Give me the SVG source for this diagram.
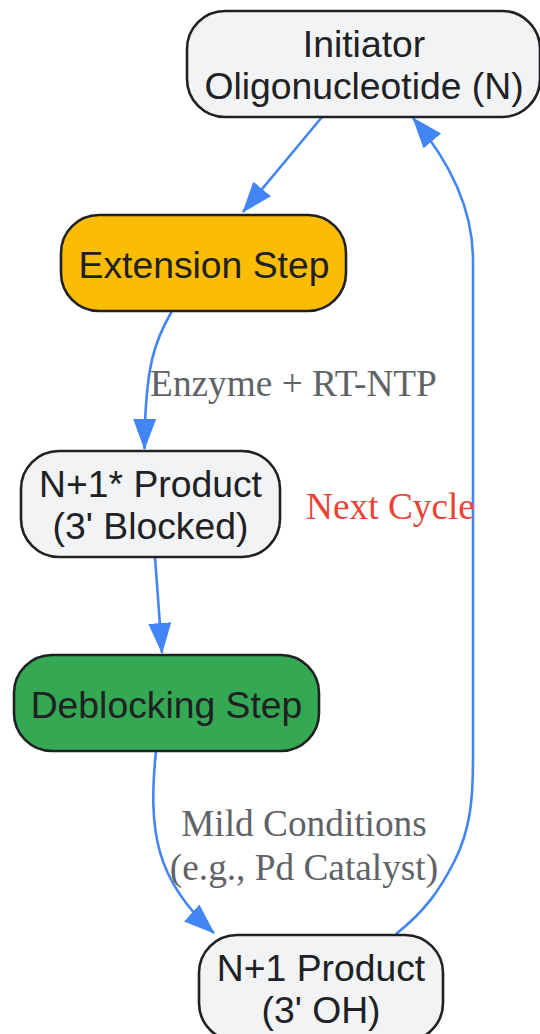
<svg xmlns="http://www.w3.org/2000/svg" width="540" height="1034" viewBox="0 0 540 1034">
<style>
text{text-anchor:middle}
.n text{font-family:"Liberation Sans",Arial,sans-serif;font-size:37.300px;fill:#202124}
.n rect{stroke:#202124;stroke-width:2.6}
.g{fill:#f1f3f4}
.l{font-family:"Liberation Serif","Times New Roman",serif;font-size:37.300px}
#edges path{fill:none;stroke:#4285f4;stroke-width:2.6}
</style>
<defs><marker id="a" markerUnits="userSpaceOnUse" markerWidth="34" markerHeight="26" refX="30" refY="12" orient="auto"><path d="M0 0.500L31 12L0 23.500z" fill="#4285f4"/></marker></defs>
<rect width="540" height="1034" fill="#fff"/>
<g id="edges">
<path d="M322 117L243 212" marker-end="url(#a)"/>
<path d="M172 311C155 340 145 365 144.500 449" marker-end="url(#a)"/>
<path d="M155 557L162 653" marker-end="url(#a)"/>
<path d="M156 751C148 830 155 880 214 933" marker-end="url(#a)"/>
<path d="M396 934C425 911 440 890 455 860C470 830 473 800 473 760V260C473 200 440 150 413 118" marker-end="url(#a)"/>
</g>
<g id="initiator" class="n"><rect class="g" x="187" y="11" width="353" height="106" rx="38"/><text x="364" y="57">Initiator</text><text x="364" y="99">Oligonucleotide (N)</text></g>
<g id="extension" class="n"><rect x="61" y="215" width="285" height="96" rx="38" fill="#fbbc04"/><text x="204" y="278">Extension Step</text></g>
<g id="blocked" class="n"><rect class="g" x="21" y="451" width="259" height="106" rx="38"/><text x="150.500" y="497">N+1* Product</text><text x="150.500" y="539">(3' Blocked)</text></g>
<g id="deblocking" class="n"><rect x="14" y="655" width="305" height="96" rx="38" fill="#34a853"/><text x="166.500" y="718">Deblocking Step</text></g>
<g id="product" class="n"><rect class="g" x="199" y="935" width="244" height="106" rx="38"/><text x="321" y="981">N+1 Product</text><text x="321" y="1023">(3' OH)</text></g>
<g id="labels">
<text class="l" x="293.500" y="395.500" fill="#5f6368">Enzyme + RT-NTP</text>
<text class="l" x="390.500" y="518.500" fill="#ea4335">Next Cycle</text>
<text class="l" x="304" y="835.500" fill="#5f6368">Mild Conditions</text>
<text class="l" x="304" y="879.500" fill="#5f6368">(e.g., Pd Catalyst)</text>
</g>
</svg>
